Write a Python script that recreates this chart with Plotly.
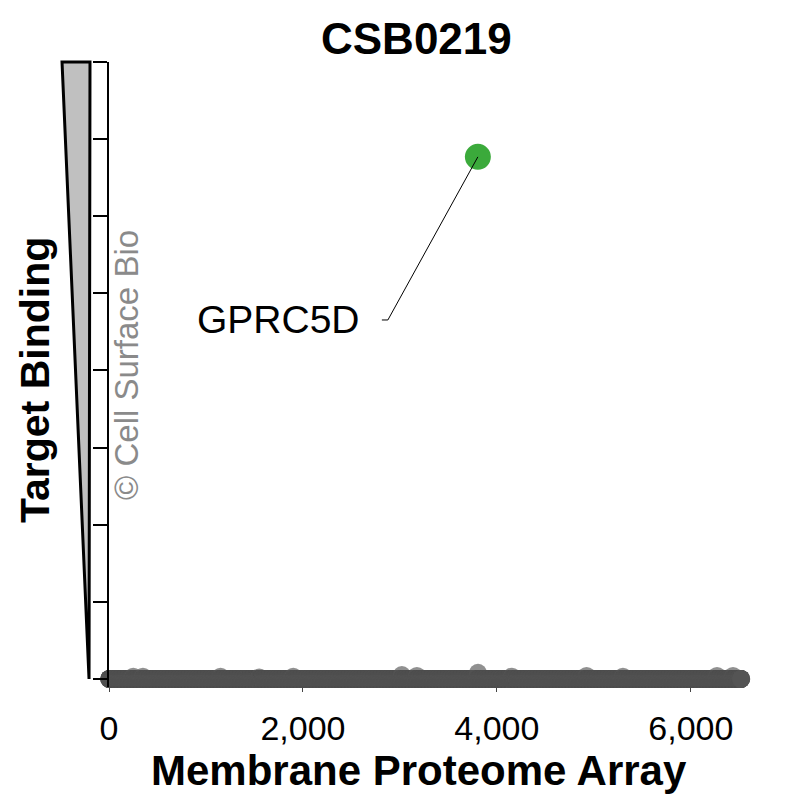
import plotly.graph_objects as go

# ---------------- data ----------------
n_proteins = 6520                      # proteins on the Membrane Proteome Array
protein_index = list(range(1, n_proteins + 1))
baseline_binding = 0.0
# small non-specific bumps (index -> binding)
bumps = {250: 0.03, 350: 0.03, 1150: 0.03, 1550: 0.02, 1900: 0.03,
         3020: 0.05, 3175: 0.04, 3805: 0.08, 4155: 0.03, 4925: 0.04,
         5300: 0.03, 6270: 0.04, 6435: 0.04}
binding = [bumps.get(i, baseline_binding) for i in protein_index]

hit_name = "GPRC5D"
hit_index = [3804]
hit_binding = [6.77]

x_tickvals = [0, 2000, 4000, 6000]
x_ticktext = ["0", "2,000", "4,000", "6,000"]
y_tickvals = [0, 1, 2, 3, 4, 5, 6, 7, 8]

title_text = "CSB0219"
x_title = "Membrane Proteome Array"
y_title = "Target Binding"
watermark = "© Cell Surface Bio"

# label / leader elbow position (layout, data units)
label_x_right = 2608
elbow_x0, elbow_x1, elbow_y = 2814, 2876, 4.655

FONT = "Liberation Sans, Arial, sans-serif"

# ---------------- figure ----------------
fig = go.Figure()
fig.add_trace(go.Scatter(
    x=protein_index, y=binding, mode="markers",
    marker=dict(size=18, color="#555555", opacity=0.65, line=dict(width=0)),
    cliponaxis=False, hoverinfo="skip", showlegend=False))
fig.add_trace(go.Scatter(
    x=hit_index, y=hit_binding, mode="markers",
    marker=dict(size=26, color="#3BAA3B", line=dict(width=0)),
    cliponaxis=False, showlegend=False, name=hit_name))

# leader line from label to hit
fig.add_shape(type="path", xref="x", yref="y", layer="above",
              path=f"M {elbow_x0} {elbow_y} L {elbow_x1} {elbow_y} L {hit_index[0]} {hit_binding[0]}",
              line=dict(color="black", width=1))

# helpers: reference-picture pixels -> paper fractions of the plot area
def px2paper_x(p):
    return (p - 109) / 640.0

def px2paper_y(p):
    return (687 - p) / 625.0

# gradient wedge beside the y axis
tri = [(62, 62), (90, 62), (89, 679)]
path = "M " + " L ".join(f"{px2paper_x(a):.4f} {px2paper_y(b):.4f}" for a, b in tri) + " Z"
fig.add_shape(type="path", xref="paper", yref="paper", path=path,
              fillcolor="#C0C0C0", line=dict(color="black", width=3), layer="above")

fig.add_annotation(x=label_x_right, y=elbow_y, xref="x", yref="y", text=hit_name,
                   showarrow=False, xanchor="right", yanchor="middle",
                   font=dict(family=FONT, size=39, color="black"))

fig.add_annotation(x=px2paper_x(416), y=px2paper_y(38), xref="paper", yref="paper",
                   text=f"<b>{title_text}</b>", showarrow=False,
                   xanchor="center", yanchor="middle",
                   font=dict(family=FONT, size=44, color="black"))
fig.add_annotation(x=px2paper_x(419), y=px2paper_y(770), xref="paper", yref="paper",
                   text=f"<b>{x_title}</b>", showarrow=False,
                   xanchor="center", yanchor="middle",
                   font=dict(family=FONT, size=42, color="black"))
fig.add_annotation(x=px2paper_x(35), y=px2paper_y(380), xref="paper", yref="paper",
                   text=f"<b>{y_title}</b>", showarrow=False, textangle=-90,
                   xanchor="center", yanchor="middle",
                   font=dict(family=FONT, size=41, color="black"))
fig.add_annotation(x=px2paper_x(126), y=px2paper_y(365), xref="paper", yref="paper",
                   text=watermark, showarrow=False, textangle=-90,
                   xanchor="center", yanchor="middle",
                   font=dict(family=FONT, size=33, color="#8A8A8A"))

fig.update_layout(
    width=803, height=803,
    margin=dict(l=101, r=62, t=54, b=124),
    paper_bgcolor="white", plot_bgcolor="white",
    xaxis=dict(range=[0, 6600], tickvals=x_tickvals, ticktext=x_ticktext,
               showgrid=False, zeroline=False, showline=False,
               ticks="outside", ticklen=4, tickwidth=1, tickcolor="#444444",
               ticklabelstandoff=7,
               tickfont=dict(family=FONT, size=34, color="black")),
    yaxis=dict(range=[-0.104, 8], tickvals=y_tickvals,
               showgrid=False, zeroline=False, showline=True,
               linecolor="black", linewidth=2,
               ticks="outside", ticklen=14, tickwidth=2, tickcolor="black",
               showticklabels=False),
)

fig.write_html("out.html")
